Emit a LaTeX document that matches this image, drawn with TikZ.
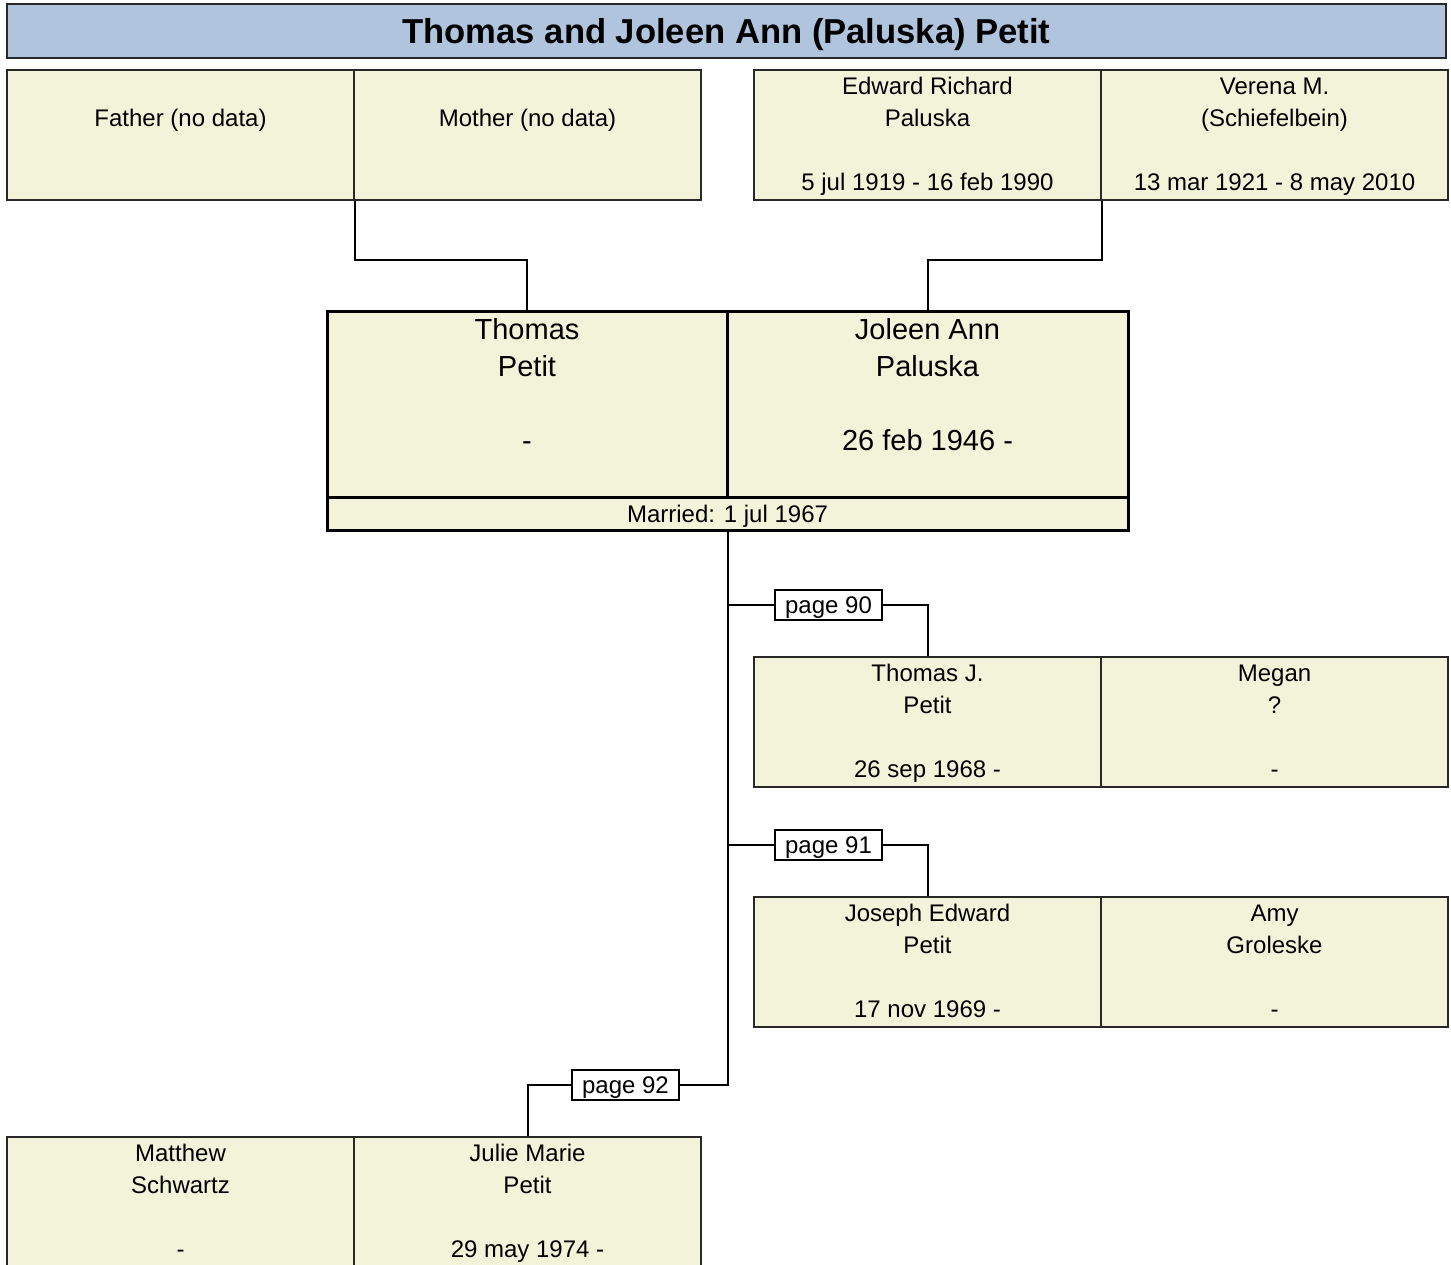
\documentclass[tikz,border=0pt]{standalone}
\usepackage{fontspec}
\setmainfont{Liberation Sans}
\usepackage{xcolor}
\usepackage{tikz}
\usetikzlibrary{positioning, calc}
\definecolor{titlefill}{RGB}{176,196,222}
\definecolor{boxfill}{RGB}{243,243,218}
\definecolor{boxline}{RGB}{40,40,40}
\tikzset{
  titlebar/.style={rectangle, draw=boxline, line width=1.2pt, fill=titlefill,
                   minimum width=719.5pt, minimum height=27pt, inner sep=0pt,
                   text height=16.5pt, text depth=3.6pt,
                   font=\fontsize{17.3}{20}\selectfont\bfseries},
  person/.style={rectangle, draw=boxline, line width=0.8pt, fill=boxfill,
                 minimum width=173.5pt, minimum height=64pt, inner sep=0pt,
                 align=center, font=\fontsize{12}{16}\selectfont},
  couple/.style={rectangle, draw=black, line width=1.5pt, fill=boxfill,
                 minimum width=200pt, minimum height=93pt, inner sep=0pt,
                 align=center, font=\fontsize{14.5}{18.5}\selectfont},
  marriage/.style={rectangle, draw=black, line width=1.5pt, fill=boxfill,
                   minimum width=400.5pt, minimum height=16.5pt, inner sep=0pt,
                   text height=11.5pt, text depth=2.3pt,
                   font=\fontsize{12}{16}\selectfont},
  pageref/.style={rectangle, draw=black, line width=0.8pt, fill=white,
                  minimum width=53.5pt, minimum height=15pt, inner sep=0pt,
                  text height=10.6pt, text depth=2.5pt,
                  font=\fontsize{12}{14}\selectfont},
  link/.style={draw=black, line width=1pt},
}
% vier regels, iets omlaag geschoven
\newcommand{\topstrut}{\rule{0pt}{12.2pt}}
\newcommand{\botstrut}{\rule[-3.8pt]{0pt}{3.8pt}}
\newcommand{\fourlines}[4]{\topstrut #1\\\strut #2\\\strut #3\\\strut #4\botstrut}
\newcommand{\bigtop}{\rule{0pt}{14pt}}
\newcommand{\bigbot}{\rule[-4.5pt]{0pt}{4.5pt}}

\begin{document}
\begin{tikzpicture}[x=0.5pt, y=-0.5pt]
\useasboundingbox (0,0) rectangle (1451,1264);

% titel
\node[titlebar] (title) at (726.5,31) {Thomas and Joleen Ann (Paluska) Petit};

% ouders
\node[person] (fatherbox) at (180.5,135) {\fourlines{}{Father (no data)}{}{}};
\node[person] (motherbox) at (527.5,135) {\fourlines{}{Mother (no data)}{}{}};
\node[person] (edwardbox) at (927.5,135) {\fourlines{Edward Richard}{Paluska}{}{5 jul 1919 - 16 feb 1990}};
\node[person] (verenabox) at (1274.5,135) {\fourlines{Verena M.}{(Schiefelbein)}{}{13 mar 1921 - 8 may 2010}};

% het echtpaar
\node[couple] (thomasbox) at (527,404) {\bigtop Thomas\\\strut Petit\\\strut\\\strut -\\\bigbot};
\node[couple, minimum width=200.5pt] (joleenbox) at (927.5,404) {\bigtop Joleen Ann\\\strut Paluska\\\strut\\\strut 26 feb 1946 -\\\bigbot};
\node[marriage] (marriedbar) at (727.5,513.5) {Married: 1 jul 1967};

% kinderen
\node[person] (thomasjbox) at (927.5,722) {\fourlines{Thomas J.}{Petit}{}{26 sep 1968 -}};
\node[person] (meganbox) at (1274.5,722) {\fourlines{Megan}{?}{}{-}};
\node[person] (josephbox) at (927.5,962) {\fourlines{Joseph Edward}{Petit}{}{17 nov 1969 -}};
\node[person] (amybox) at (1274.5,962) {\fourlines{Amy}{Groleske}{}{-}};
\node[person] (matthewbox) at (180.5,1202) {\fourlines{Matthew}{Schwartz}{}{-}};
\node[person] (juliebox) at (527.5,1202) {\fourlines{Julie Marie}{Petit}{}{29 may 1974 -}};

% paginaverwijzingen
\node[pageref] (page90) at (828.5,605) {page 90};
\node[pageref] (page91) at (828.5,845) {page 91};
\node[pageref] (page92) at (625.5,1085) {page 92};

% lijnen naar de ouders
\draw[link] (fatherbox.south east) -- ++(0,59) -| (thomasbox.north);
\draw[link] (edwardbox.south east) -- ++(0,59) -| (joleenbox.north);

% lijnen naar de kinderen
\draw[link] (marriedbar.south) |- (page92.east);
\draw[link] (page92.west) -| (juliebox.north);
\draw[link] (marriedbar.south |- page90) -- (page90.west);
\draw[link] (page90.east) -| (thomasjbox.north);
\draw[link] (marriedbar.south |- page91) -- (page91.west);
\draw[link] (page91.east) -| (josephbox.north);
\end{tikzpicture}
\end{document}
